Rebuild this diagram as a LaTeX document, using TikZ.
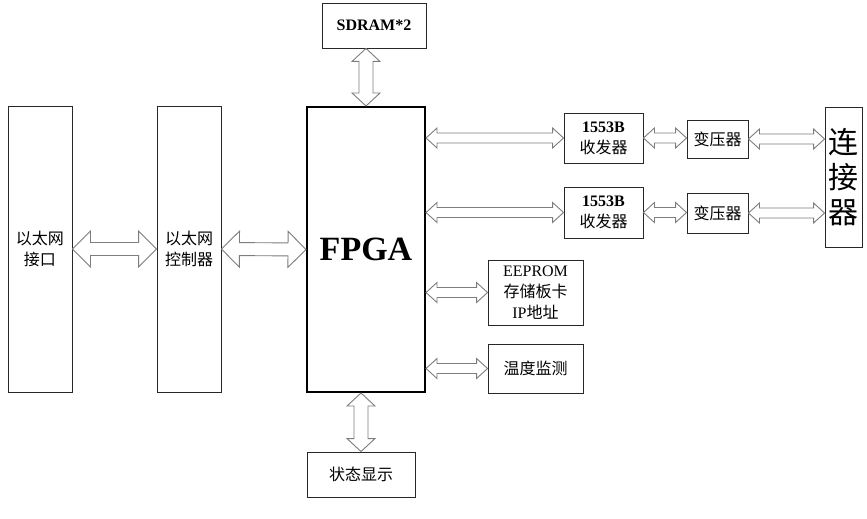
\documentclass[tikz,border=0pt]{standalone}
\usepackage{fontspec}
\setmainfont{Liberation Serif}
\newfontfamily\cjk{Noto Sans CJK SC}
\usetikzlibrary{calc,positioning}
\definecolor{ink}{RGB}{40,40,40}
\definecolor{pipe}{RGB}{125,125,125}

\begin{document}
\begin{tikzpicture}[x=1pt,y=-1pt,box/.style={draw=ink,line width=.9pt,inner sep=0pt,align=center,font=\fontsize{16}{21}\selectfont},zh/.style={box,font=\fontsize{16}{21}\selectfont\cjk},
fat/.style n args={3}{fill=white,draw=pipe,line width=.9pt,to path={
 -- ($($(\tikztostart)!#1!(\tikztotarget)$)!#2!90:(\tikztotarget)$) -- ($($(\tikztostart)!#1!(\tikztotarget)$)!#3!90:(\tikztotarget)$)
 -- ($($(\tikztotarget)!#1!(\tikztostart)$)!#3!-90:(\tikztostart)$) -- ($($(\tikztotarget)!#1!(\tikztostart)$)!#2!-90:(\tikztostart)$)
 -- (\tikztotarget)
 -- ($($(\tikztotarget)!#1!(\tikztostart)$)!#2!90:(\tikztostart)$) -- ($($(\tikztotarget)!#1!(\tikztostart)$)!#3!90:(\tikztostart)$)
 -- ($($(\tikztostart)!#1!(\tikztotarget)$)!#3!-90:(\tikztotarget)$) -- ($($(\tikztostart)!#1!(\tikztotarget)$)!#2!-90:(\tikztotarget)$)
 -- cycle}},
bigpipe/.style={fat={18pt}{18pt}{6.5pt}},smallpipe/.style={fat={11pt}{10pt}{5pt}},vpipe/.style={fat={13pt}{14pt}{7pt}}]
\useasboundingbox (0,0) rectangle (867,519);
\node[zh,minimum width=64pt,minimum height=286pt] (eth) at (40,249) {以太网\\接口};
\node[zh,minimum width=64pt,minimum height=286pt] (ctrl) at (189,249) {以太网\\控制器};
\node[box,draw=black,line width=2pt,minimum width=118pt,minimum height=285pt,font=\fontsize{34}{40}\selectfont\bfseries] (fpga) at (366,249.5) {FPGA};
\node[box,minimum width=104pt,minimum height=45pt,font=\fontsize{16}{21}\selectfont\bfseries] (sdram) at (374,25.5) {SDRAM*2};
\node[zh,minimum width=108pt,minimum height=45pt] (status) at (361,474.5) {状态显示};
\node[box,minimum width=79pt,minimum height=50pt] (tr1) at (603.5,138) {\textbf{1553B}\\{\cjk 收发器}};
\node[box,minimum width=79pt,minimum height=51pt] (tr2) at (603.5,212.5) {\textbf{1553B}\\{\cjk 收发器}};
\node[zh,minimum width=61pt,minimum height=38pt] (xf1) at (717.5,139) {变压器};
\node[zh,minimum width=61pt,minimum height=40pt] (xf2) at (717.5,213) {变压器};
\node[box,minimum width=37pt,minimum height=140pt,font=\fontsize{30}{35}\selectfont\cjk] (conn) at (843.5,177) {连\\接\\器};
\node[box,minimum width=95pt,minimum height=65pt] (eeprom) at (535.5,292.5) {EEPROM\\{\cjk 存储板卡}\\IP{\cjk 地址}};
\node[zh,minimum width=95pt,minimum height=49pt] (temp) at (535.5,368.5) {温度监测};
\draw[bigpipe] (eth.east) to (ctrl.west); \draw[bigpipe] (ctrl.east) to (fpga.west);
\draw[vpipe] (fpga.north) to (fpga.north |- sdram.south); \draw[vpipe] (status.north |- fpga.south) to (status.north);
\draw[smallpipe] (fpga.east |- tr1.west) to (tr1.west); \draw[smallpipe] (tr1.east) to (tr1.east -| xf1.west); \draw[smallpipe] (xf1.east) to (xf1.east -| conn.west);
\draw[smallpipe] (fpga.east |- tr2.west) to (tr2.west); \draw[smallpipe] (tr2.east) to (tr2.east -| xf2.west); \draw[smallpipe] (xf2.east) to (xf2.east -| conn.west);
\draw[smallpipe] (fpga.east |- eeprom.west) to (eeprom.west); \draw[smallpipe] (fpga.east |- temp.west) to (temp.west);
\end{tikzpicture}
\end{document}
